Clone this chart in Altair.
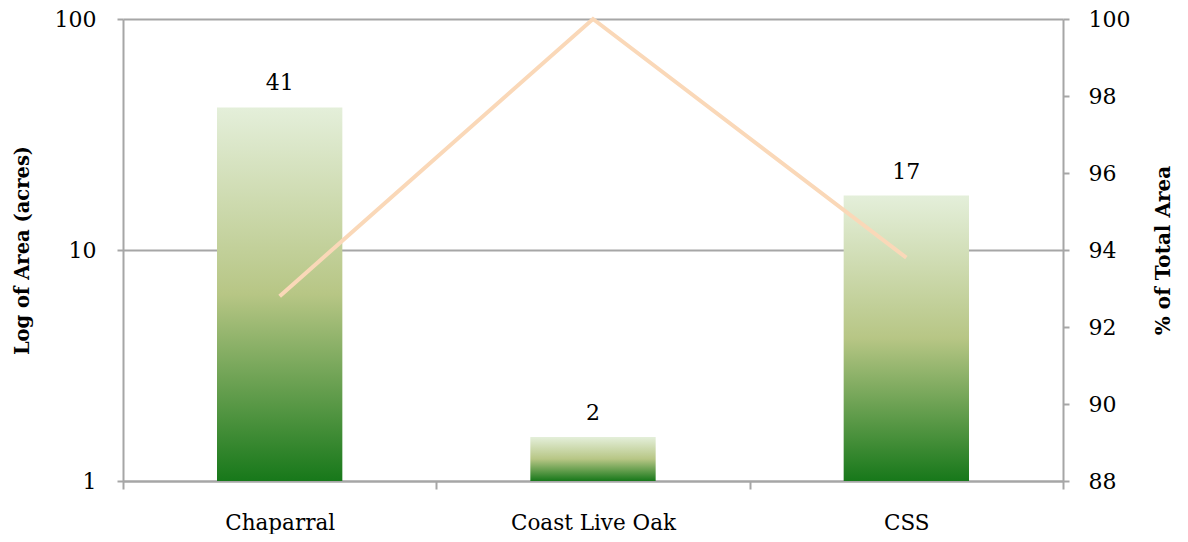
import altair as alt
import pandas as pd

categories = ["Chaparral", "Coast Live Oak", "CSS"]
area_acres = [41.4, 1.55, 17.2]
pct_total = [92.8, 100.0, 93.8]
left_ticks = [1, 10, 100]
right_ticks = [88, 90, 92, 94, 96, 98, 100]

df = pd.DataFrame({"category": categories, "area": area_acres, "pct": pct_total})

FONT = "DejaVu Serif"
GRAY = "#a6a6a6"

x_scale = alt.Scale(paddingInner=0, paddingOuter=0)

x_enc = alt.X(
    "category:N", sort=categories, title=None, scale=x_scale,
    axis=alt.Axis(labelAngle=0, tickBand="extent", domainColor=GRAY, domainWidth=2,
                  tickColor=GRAY, tickWidth=2, tickSize=8, labelFont=FONT,
                  labelFontSize=21.5, labelPadding=23, labelColor="black", grid=False),
)

y_left = alt.Y(
    "area:Q",
    scale=alt.Scale(type="log", domain=[1, 100], nice=False),
    axis=alt.Axis(orient="left", values=left_ticks, format="d", grid=True,
                  gridColor=GRAY, gridWidth=2, domainColor=GRAY, domainWidth=2,
                  tickColor=GRAY, tickWidth=2, tickSize=6, labelFont=FONT,
                  labelFontSize=22, labelPadding=21, labelColor="black",
                  title="Log of Area (acres)", titleFont=FONT, titleFontSize=19.5,
                  titleFontWeight="bold", titleColor="black", titleAngle=270,
                  titlePadding=22),
)

gradient = alt.LinearGradient(
    gradient="linear", x1=0, y1=0, x2=0, y2=1,
    stops=[alt.GradientStop(offset=0, color="#e4efda"),
           alt.GradientStop(offset=0.5, color="#b7c685"),
           alt.GradientStop(offset=1, color="#17781a")],
)

bars = alt.Chart(df).mark_bar(color=gradient, width=alt.RelativeBandSize(0.4)).encode(
    x=x_enc, y=y_left, y2=alt.datum(1)
)

labels = alt.Chart(df).mark_text(
    baseline="bottom", dy=-12, font=FONT, fontSize=22, color="black"
).encode(
    x=alt.X("category:N", sort=categories, scale=x_scale),
    y=alt.Y("area:Q"),
    text=alt.Text("area:Q", format=".0f"),
)

line = alt.Chart(df).mark_line(color="#fad8b8", strokeWidth=4).encode(
    x=alt.X("category:N", sort=categories, scale=x_scale),
    y=alt.Y("pct:Q", scale=alt.Scale(domain=[88, 100], nice=False, zero=False),
            axis=alt.Axis(orient="right", values=right_ticks, grid=False,
                          domainColor=GRAY, domainWidth=2, tickColor=GRAY,
                          tickWidth=2, tickSize=6, labelFont=FONT, labelFontSize=22,
                          labelPadding=19, labelColor="black",
                          title="% of Total Area", titleFont=FONT, titleFontSize=20,
                          titleFontWeight="bold", titleColor="black", titleAngle=270,
                          titlePadding=44)),
)

chart = alt.layer(alt.layer(bars, labels), line).resolve_scale(y="independent").properties(
    width=940, height=462,
    autosize=alt.AutoSizeParams(type="none"),
    padding={"left": 115, "top": 11, "right": 117, "bottom": 53},
).configure_view(stroke="transparent")

chart.save("out.html", embed_options={"renderer": "svg", "actions": False})
